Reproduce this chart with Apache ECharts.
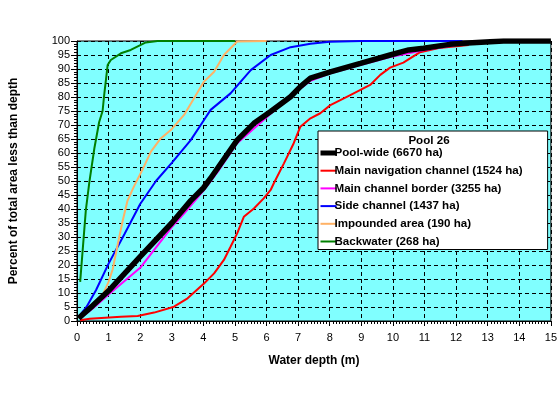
<!DOCTYPE html>
<html>
<head>
<meta charset="utf-8">
<script src="https://cdn.jsdelivr.net/npm/echarts@6/dist/echarts.min.js"></script>
<style>
  html, body { margin: 0; padding: 0; background: #fff; }
  #main { width: 560px; height: 400px; }
</style>
</head>
<body>
<div id="main"></div>
<script>
var myChart = echarts.init(document.getElementById('main'));

// depth (m) and cumulative percent
var poolDepth   = [0.05, 0.5, 1, 2, 3, 3.6, 4, 4.23, 5.07, 5.6, 6.13, 6.76, 7.07, 7.39, 8.02, 8.97, 9.91, 10.5, 10.97, 11.8, 12.23, 13.5, 15];
var poolPct     = [1, 5.5, 10.8, 23, 35, 43, 47.5, 51, 64.6, 70.6, 74.8, 80.1, 83.7, 86.7, 89, 92, 95, 96.8, 97.4, 98.8, 99.2, 100, 100];

var navDepth    = [0.1, 0.4, 1.39, 1.92, 2.44, 3.07, 3.5, 4.02, 4.34, 4.65, 4.86, 5.07, 5.28, 5.6, 5.91, 6.13, 6.23, 6.55, 6.86, 7.07, 7.39, 7.7, 8.02, 8.65, 9.28, 9.6, 9.91, 10.33, 10.86, 11.45, 12.4];
var navPct      = [0.3, 0.8, 1.5, 1.8, 3, 5.1, 8.1, 13.4, 17, 21.8, 26.5, 31.3, 37.2, 40.2, 43.8, 46.8, 49.2, 56.3, 63.5, 69.4, 72.4, 74.2, 77.1, 80.7, 84.3, 87.9, 90.5, 92.3, 96, 97.5, 98.6];

var borderDepth = [0.1, 0.5, 1, 2, 3, 3.4, 4, 4.5, 5.07, 6.13, 7.07, 7.39, 8.02, 9, 10, 11, 12];
var borderPct   = [1, 4.5, 9.5, 19, 33.5, 38.5, 46.5, 54, 63.5, 74, 83, 85.8, 88.5, 91.5, 94.5, 96.8, 98.6];

var sideDepth   = [0.05, 0.3, 0.6, 1, 1.5, 2, 2.5, 3, 3.6, 4.02, 4.23, 4.86, 5.5, 6.13, 6.76, 7.39, 8, 9, 12.2];
var sidePct     = [1.5, 5, 11, 20.5, 31, 41.8, 50, 56.5, 64.6, 71.8, 75.4, 81.3, 89.6, 95, 97.8, 99, 99.7, 100, 100];

var impDepth    = [0.05, 0.5, 0.8, 1.0, 1.13, 1.3, 1.45, 1.6, 1.8, 2.07, 2.34, 2.65, 2.97, 3.39, 3.7, 4.02, 4.34, 4.65, 4.86, 5.07, 6];
var impPct      = [1, 5, 9, 14, 18.5, 28, 36, 43, 48, 54, 60.5, 65.2, 68.2, 73.6, 79.5, 85.5, 89, 95, 97.4, 99.8, 100];

var backDepth   = [0.1, 0.28, 0.39, 0.55, 0.7, 0.81, 0.86, 0.97, 1.07, 1.39, 1.7, 2.02, 2.18, 2.55, 5];
var backPct     = [14, 39.6, 49.5, 61.7, 71, 75, 80.7, 91.4, 93.2, 95.6, 96.8, 98.6, 99.5, 100, 100];

var names = [
  'Pool-wide (6670 ha)',
  'Main navigation channel (1524 ha)',
  'Main channel border (3255 ha)',
  'Side channel (1437 ha)',
  'Impounded area (190 ha)',
  'Backwater (268 ha)'
];
var colors = ['#000000', '#ff0000', '#ff00ff', '#0000ff', '#ffb266', '#008000'];
var widths = [5.5, 2, 2, 2, 2, 2];

function pairs(xs, ys) {
  return xs.map(function (x, i) { return [x, ys[i]]; });
}
var seriesData = [
  pairs(poolDepth, poolPct),
  pairs(navDepth, navPct),
  pairs(borderDepth, borderPct),
  pairs(sideDepth, sidePct),
  pairs(impDepth, impPct),
  pairs(backDepth, backPct)
];

var font = 'Arial, "Liberation Sans", sans-serif';

option = {
  backgroundColor: '#ffffff',
  animation: false,
  title: {
    text: 'Pool 26',
    left: 429,
    top: 135,
    padding: 0,
    textAlign: 'center',
    textStyle: { fontFamily: font, fontSize: 11.6, fontWeight: 'bold', color: '#000' },
    z: 10
  },
  legend: {
    orient: 'vertical',
    left: 318,
    top: 131,
    data: names.map(function (n, i) {
      return { name: n, lineStyle: { width: i === 0 ? 5 : 2 } };
    }),
    backgroundColor: '#ffffff',
    borderColor: '#000000',
    borderWidth: 1,
    borderRadius: 0,
    padding: [16, 25, 2, 0],
    itemWidth: 16,
    itemHeight: 12,
    itemGap: 5.7,
    itemStyle: { opacity: 0 },
    textStyle: { fontFamily: font, fontSize: 11.6, fontWeight: 'bold', color: '#000', padding: [0, 0, 0, -7] }
  },
  grid: {
    left: 76,
    right: 9,
    top: 41,
    bottom: 79,
    show: true,
    backgroundColor: '#80ffff',
    borderColor: '#000',
    borderWidth: 1
  },
  xAxis: {
    type: 'value',
    min: 0,
    max: 15,
    interval: 1,
    name: 'Water depth (m)',
    nameLocation: 'middle',
    nameGap: 34,
    nameTextStyle: { fontFamily: font, fontSize: 12, fontWeight: 'bold', color: '#000' },
    axisLine: { show: true, lineStyle: { color: '#000', width: 1 } },
    axisTick: { show: true, length: 5, lineStyle: { color: '#000' } },
    minorTick: { show: true, splitNumber: 10, length: 3, lineStyle: { color: '#000' } },
    axisLabel: { fontFamily: font, fontSize: 11, color: '#000', margin: 11 },
    splitLine: { show: true, lineStyle: { color: '#000', type: [4, 3], width: 1 } }
  },
  yAxis: {
    type: 'value',
    min: 0,
    max: 100,
    interval: 5,
    name: 'Percent of total area less than depth',
    nameLocation: 'middle',
    nameGap: 57,
    nameTextStyle: { fontFamily: font, fontSize: 12, fontWeight: 'bold', color: '#000' },
    axisLine: { show: true, lineStyle: { color: '#000', width: 1 } },
    axisTick: { show: true, length: 6, lineStyle: { color: '#000' } },
    minorTick: { show: true, splitNumber: 5, length: 3, lineStyle: { color: '#000' } },
    axisLabel: { fontFamily: font, fontSize: 11, color: '#000', margin: 7 },
    splitLine: { show: true, lineStyle: { color: '#000', type: [4, 3], width: 1 } }
  },
  series: names.map(function (n, i) {
    return {
      name: n,
      type: 'line',
      data: seriesData[i],
      symbol: 'none',
      smooth: false,
      clip: true,
      z: i === 0 ? 5 : 3,
      color: colors[i],
      lineStyle: { color: colors[i], width: widths[i] }
    };
  })
};

myChart.setOption(option);
</script>
</body>
</html>
